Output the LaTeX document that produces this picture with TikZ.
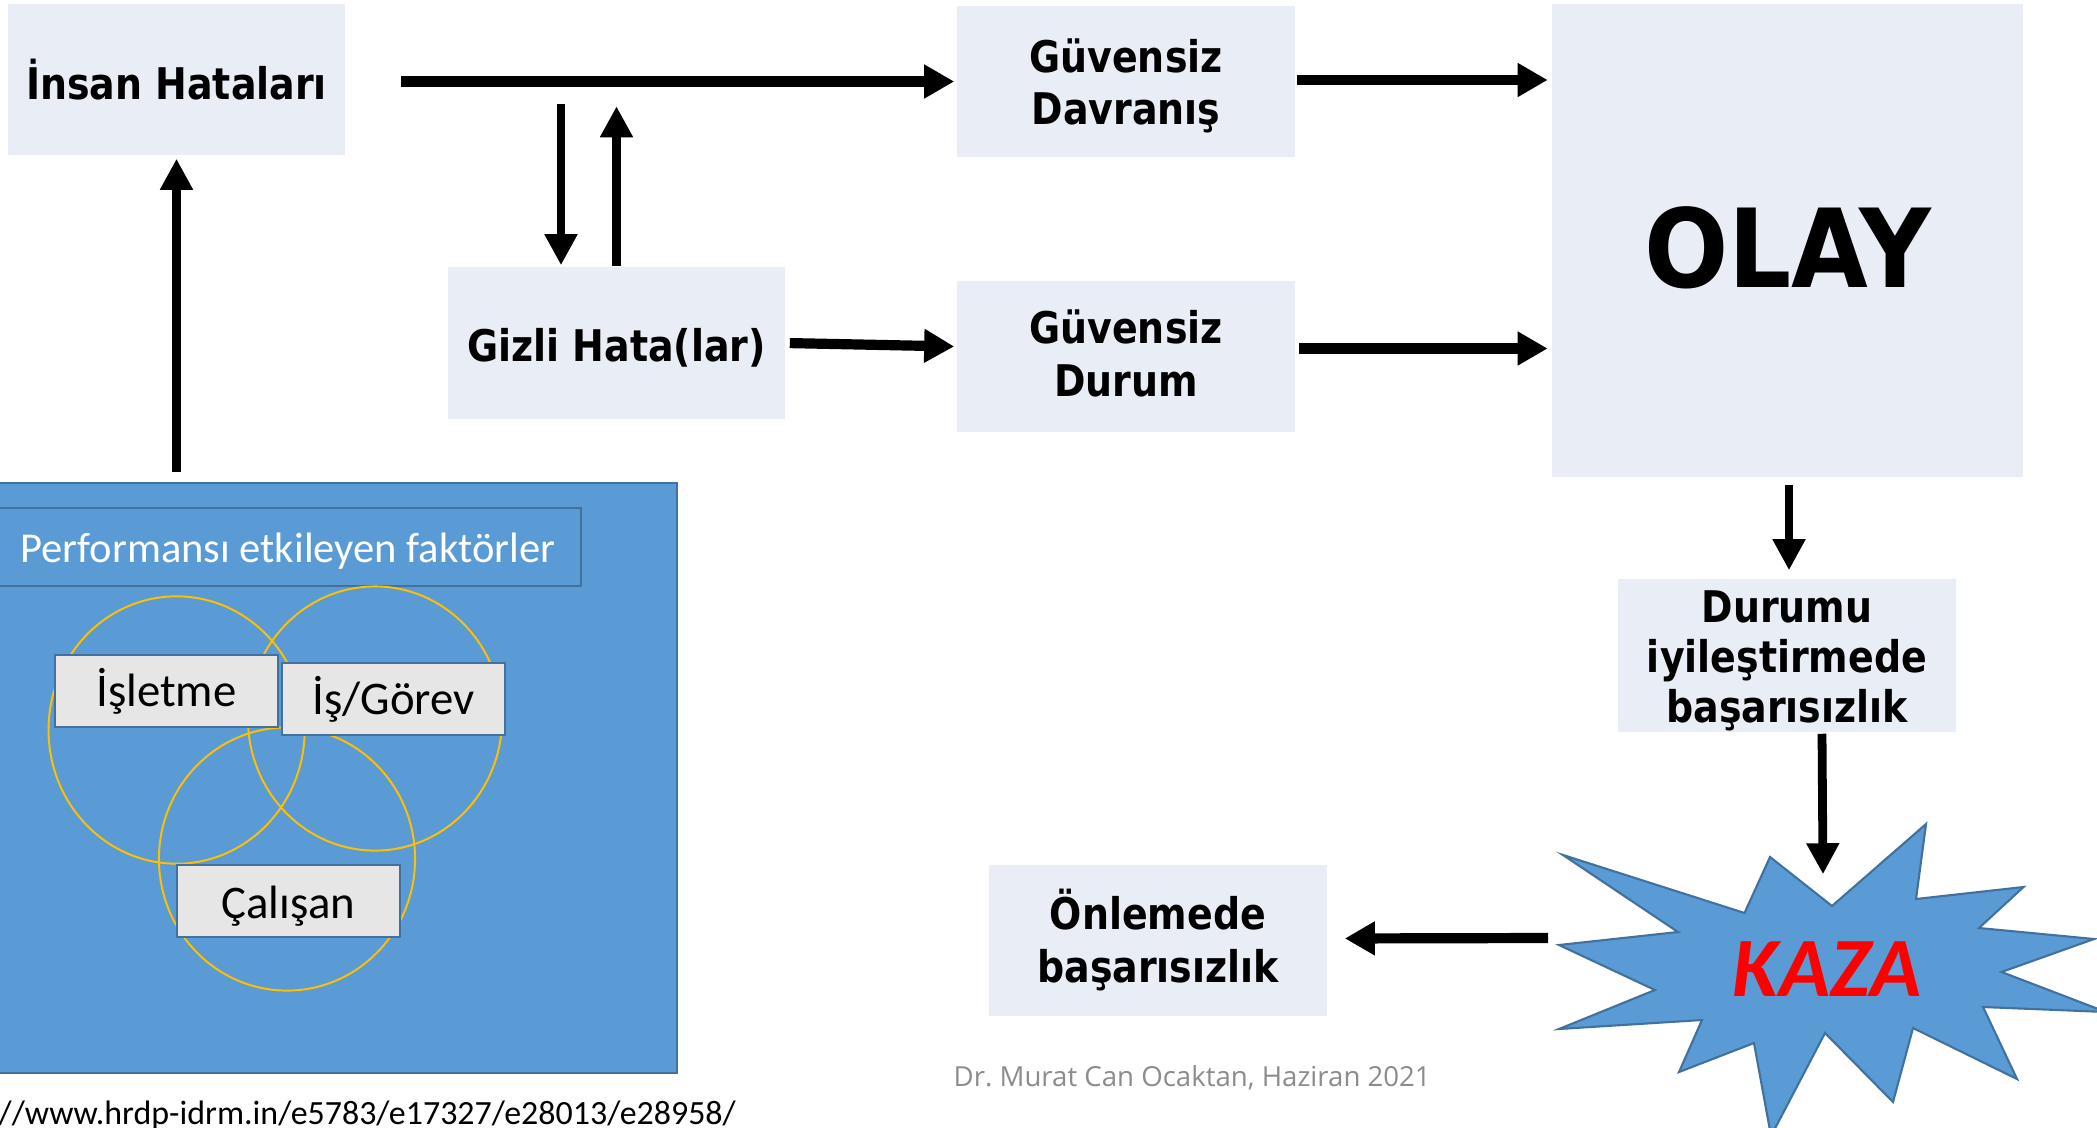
\documentclass[tikz,border=0pt]{standalone}
\usepackage{fontspec}
\setmainfont{Carlito}
\newfontfamily\vfont{DejaVu Sans}[FakeStretch=0.87]
\newfontfamily\bigfont{DejaVu Sans}[FakeStretch=0.91]
\newfontfamily\ofont{Open Sans}
\usetikzlibrary{arrows.meta,calc}
\definecolor{boxbg}{HTML}{E9EDF5}
\definecolor{pblue}{HTML}{5B9BD5}
\definecolor{pborder}{HTML}{41719C}
\definecolor{ring}{HTML}{FFC000}
\definecolor{gbox}{HTML}{E6E6E6}
\definecolor{footgray}{HTML}{8C8C8C}
\frenchspacing
\newcommand{\lowerby}[2]{\raisebox{-#1}[\height][\depth]{#2}}
\newcommand{\lines}[1]{\begin{tabular}{@{}c@{}}#1\end{tabular}}
\begin{document}
\begin{tikzpicture}[x=0.01cm,y=-0.01cm,
  mainbox/.style={fill=boxbg, draw=none, inner sep=0pt, align=center, text=black,
    font={\vfont\bfseries\fontsize{12.4}{15}\selectfont}},
  graybox/.style={fill=gbox, draw=pborder, line width=0.6pt, inner sep=0pt,
    minimum width=2.23cm, minimum height=0.72cm, font={\fontsize{13.3}{15}\selectfont}},
  ringline/.style={draw=ring, line width=0.55pt},
  harr/.style={line width=2.9pt, -{Triangle[length=0.30cm,width=0.32cm]}},
  varr/.style={line width=2.5pt, -{Triangle[length=0.31cm,width=0.31cm]}}]
\useasboundingbox (0,0) rectangle (2097,1127);
\fill[white] (0,0) rectangle (2097,1127);
\clip (0,0) rectangle (2097,1127);

% main boxes
\node[mainbox, minimum width=3.37cm, minimum height=1.51cm] (insan) at (176.5,79.5) {İnsan Hataları};
\node[mainbox, minimum width=3.38cm, minimum height=1.51cm] (davr) at (1126,81.5) {\lowerby{0.065cm}{\lines{Güvensiz\\Davranış}}};
\node[mainbox, minimum width=3.37cm, minimum height=1.52cm] (gizli) at (616.5,343) {\lowerby{0.05cm}{Gizli Hata(lar)}};
\node[mainbox, minimum width=3.38cm, minimum height=1.51cm] (durum) at (1126,356.5) {\lowerby{0.03cm}{\lines{Güvensiz\\Durum}}};
\node[mainbox, minimum width=4.70cm, minimum height=4.73cm,
  font={\bigfont\bfseries\fontsize{31}{36}\selectfont}] (olay) at (1787.5,240.5) {\lowerby{0.07cm}{OLAY}};
\node[mainbox, minimum width=3.38cm, minimum height=1.53cm] (durumu) at (1787,655.5) {\renewcommand{\arraystretch}{0.955}\lowerby{0.07cm}{\lines{Durumu\\iyileştirmede\\başarısızlık}}};
\node[mainbox, minimum width=3.38cm, minimum height=1.51cm] (onlem) at (1158,940.5) {\lowerby{0.03cm}{\lines{Önlemede\\başarısızlık}}};

% performance factors panel
\node[fill=pblue, draw=pborder, line width=0.6pt, inner sep=0pt,
  minimum width=6.82cm, minimum height=5.90cm] (perf) at (336,778) {};
\node[fill=pblue, draw=pborder, line width=0.6pt, inner sep=0pt,
  minimum width=5.86cm, minimum height=0.78cm] (ptitle) at (288,547) {};
\node[anchor=west, inner sep=0pt, text=white, font={\fontsize{12.1}{14}\selectfont}]
  (ptext) at ($(ptitle.west)+(26,4)$) {Performansı etkileyen faktörler};
\draw[ringline] (176.6,730) ellipse [x radius=1.28cm, y radius=1.336cm];
\draw[ringline] (375,718.5) ellipse [x radius=1.27cm, y radius=1.32cm];
\draw[ringline] (287,859) ellipse [x radius=1.28cm, y radius=1.315cm];
\node[graybox] (isl) at (166.5,691) {İşletme};
\node[graybox] (isg) at (393.5,699) {İş/Görev};
\node[graybox] (cal) at (288.5,901) {\lowerby{0.05cm}{Çalışan}};

% star
\draw[fill=pblue, draw=pborder, line width=0.6pt]
  (1563,855) -- (1744.5,913) -- (1770,857) -- (1832,906) -- (1926,824) -- (1916,899)
  -- (2023.5,887) -- (1979,928) -- (2094,939) -- (2001.5,972) -- (2106,1012)
  -- (1983,1007) -- (2017,1079) -- (1913,1028) -- (1893,1102) -- (1825,1033)
  -- (1771,1136) -- (1754,1043) -- (1679,1072) -- (1702,1020) -- (1559,1029)
  -- (1655,990) -- (1559,945) -- (1678,932) -- cycle;
\node[inner sep=0pt, minimum width=5.56cm, minimum height=1.88cm, text=red,
  font={\bfseries\itshape\fontsize{24}{24}\selectfont}] (kaza) at (1827,969) {KAZA};

% connectors
\draw[harr, shorten <=0.55cm, shorten >=0.02cm] (insan.east |- davr.west) -- (davr.west);
\draw[harr, shorten <=0.01cm, shorten >=0.04cm] ($(davr.east)+(0,-1.5)$) -- ($(davr.east -| olay.west)+(0,-1.5)$);
\draw[harr, shorten <=0.04cm, shorten >=0.02cm] (gizli.east) -- ($(durum.west)+(0,-10)$);
\draw[harr, shorten <=0.03cm, shorten >=0.04cm] ($(durum.east)+(0,-8)$) -- ($(durum.east -| olay.west)+(0,-8)$);
\coordinate (dtop) at (561,104);
\draw[varr, shorten >=0.01cm] (dtop) -- (dtop |- gizli.north);
\draw[varr] (gizli.north) -- ++(0,-160);
\draw[varr, shorten >=0.03cm] ($(perf.north -| insan.south)+(0,-10)$) -- (insan.south);
\draw[varr, shorten <=0.07cm, shorten >=0.08cm] ($(olay.south)+(1.5,0)$) -- ($(durumu.north)+(2,0)$);
\draw[varr, shorten <=0.01cm] ($(durumu.south -| kaza.north)+(-5,0)$) -- ($(kaza.north)+(-4,0)$);
\draw[harr, shorten >=0.17cm] ($(kaza.west)+(0,-31)$) -- ($(onlem.east)+(0,-2)$);

% footer texts
\node[anchor=base west, inner sep=0pt, text=footgray, font={\ofont\fontsize{7.85}{10}\selectfont}]
  (foot) at (953,1086) {Dr. Murat Can Ocaktan, Haziran 2021};
\node[anchor=base west, inner sep=0pt, font={\fontsize{9.65}{11}\selectfont}]
  (url) at (-2,1124) {//www.hrdp-idrm.in/e5783/e17327/e28013/e28958/};
\end{tikzpicture}
\end{document}
